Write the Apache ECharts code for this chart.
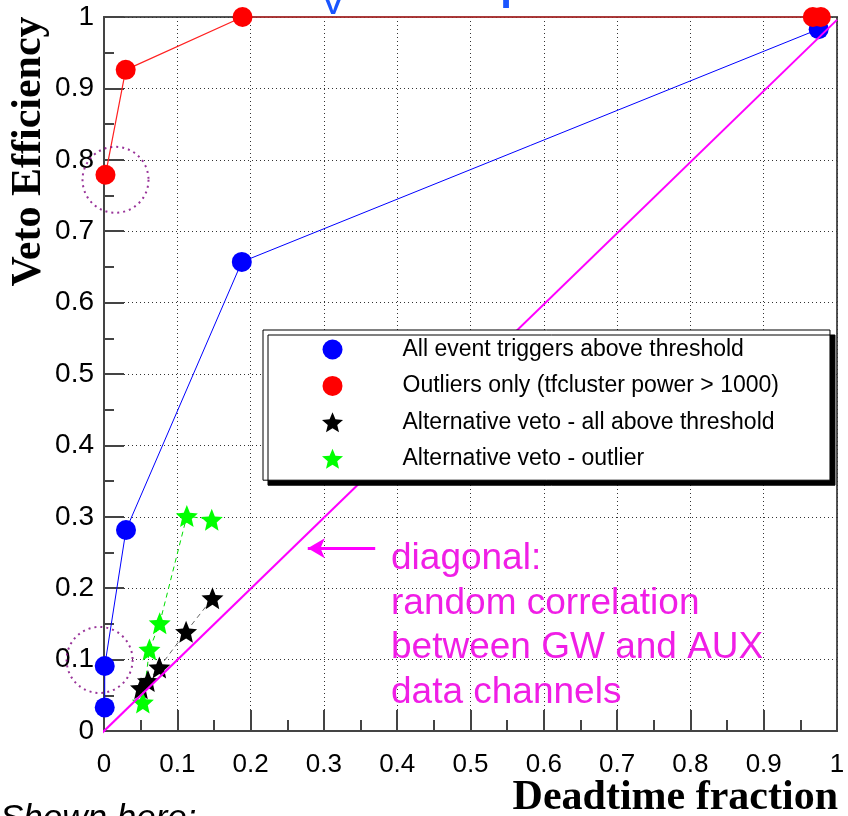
<!DOCTYPE html>
<html>
<head>
<meta charset="utf-8">
<script src="https://cdn.jsdelivr.net/npm/echarts@6/dist/echarts.min.js"></script>
<style>html,body{margin:0;padding:0;background:#fff}#c{width:848px;height:816px}</style>
</head>
<body>
<div id="c"></div>
<script>
// ---- data ----
const seriesNames = [
  'All event triggers above threshold',
  'Outliers only (tfcluster power > 1000)',
  'Alternative veto - all above threshold',
  'Alternative veto - outlier'
];
const allTrigX = [0.001, 0.001, 0.030, 0.188, 0.975];
const allTrigY = [0.033, 0.091, 0.2815, 0.657, 0.983];
const outlierX = [0.002, 0.0296, 0.189, 0.967, 0.978];
const outlierY = [0.779, 0.926, 1.0, 1.0, 1.0];
const altAllX = [0.0505, 0.060, 0.0755, 0.112, 0.148];
const altAllY = [0.060, 0.070, 0.089, 0.139, 0.186];
const altOutX = [0.053, 0.062, 0.076, 0.113, 0.147];
const altOutY = [0.040, 0.114, 0.151, 0.301, 0.296];
const diagonalX = [-0.012, 1.0];
const diagonalY = [-0.012, 0.996];
const circleX = [0.0157, -0.006];
const circleY = [0.772, 0.0995];
const arrowX = [0.370, 0.278];
const arrowY = [0.256, 0.256];
const xTickLabels = ['0','0.1','0.2','0.3','0.4','0.5','0.6','0.7','0.8','0.9','1'];
const yTickLabels = ['0','0.1','0.2','0.3','0.4','0.5','0.6','0.7','0.8','0.9','1'];
const annotationLines = ['diagonal:', 'random correlation', 'between GW and AUX', 'data channels'];
const xTitle = 'Deadtime fraction';
const yTitle = 'Veto Efficiency';
const footText = 'Shown here:';

const zip = (xs, ys) => xs.map((x, i) => [x, ys[i]]);
const star = 'path://M100,0 L126.5,63.6 L195.1,69.1 L142.8,113.9 L158.8,180.9 L100,145 L41.2,180.9 L57.2,113.9 L4.9,69.1 L73.5,63.6 Z';
const tickLab = (arr) => (v) => arr[Math.round(v * 10)] ?? '';

const chart = echarts.init(document.getElementById('c'), null, {renderer: 'canvas'});
const axisCol = '#444';
const sans = 'Liberation Sans';
const serif = 'Liberation Serif';
const magenta = '#ff00ff';

chart.setOption({
  animation: false,
  backgroundColor: '#fff',
  grid: {left: 104, right: 11, top: 17, bottom: 85, show: true, borderColor: '#555', borderWidth: 2},
  xAxis: {
    type: 'value', min: 0, max: 1, interval: 0.1,
    axisLine: {show: true, onZero: false, lineStyle: {color: axisCol, width: 2}},
    axisTick: {show: true, inside: true, length: 21, lineStyle: {color: axisCol, width: 2}},
    minorTick: {show: true, splitNumber: 2, length: 11, lineStyle: {color: axisCol, width: 2}},
    splitLine: {show: true, lineStyle: {color: '#333', type: [1, 3], width: 1}},
    axisLabel: {fontSize: 26, color: '#000', fontFamily: sans, margin: 21, formatter: tickLab(xTickLabels)}
  },
  yAxis: {
    type: 'value', min: 0, max: 1, interval: 0.1,
    axisLine: {show: true, onZero: false, lineStyle: {color: axisCol, width: 2}},
    axisTick: {show: true, inside: true, length: 20, lineStyle: {color: axisCol, width: 2}},
    minorTick: {show: true, splitNumber: 2, length: 10, lineStyle: {color: axisCol, width: 2}},
    splitLine: {show: true, lineStyle: {color: '#333', type: [1, 3], width: 1}},
    axisLabel: {fontSize: 28, color: '#000', fontFamily: sans, margin: 10, formatter: tickLab(yTickLabels)}
  },
  legend: {
    orient: 'vertical', left: 263, top: 330,
    padding: [8, 51, 10, 59],
    itemWidth: 130, itemHeight: 20, itemGap: 13.4,
    backgroundColor: '#fff', borderColor: '#000', borderWidth: 1,
    shadowColor: '#000', shadowBlur: 0, shadowOffsetX: 5, shadowOffsetY: 5,
    textStyle: {fontSize: 23, color: '#000', fontFamily: sans},
    selectedMode: false,
    data: [
      {name: seriesNames[0], icon: 'circle'},
      {name: seriesNames[1], icon: 'circle'},
      {name: seriesNames[2], icon: star},
      {name: seriesNames[3], icon: star}
    ],
    z: 10
  },
  series: [
    {
      name: 'diagonal', type: 'line', data: zip(diagonalX, diagonalY), symbol: 'none', clip: false,
      lineStyle: {color: magenta, width: 2}, z: 6, silent: true,
      markLine: {
        silent: true, symbol: ['none', 'arrow'], symbolSize: [15, 17],
        lineStyle: {color: magenta, width: 3, type: 'solid'}, label: {show: false},
        data: [[{coord: [arrowX[0], arrowY[0]]}, {coord: [arrowX[1], arrowY[1]]}]]
      }
    },
    {
      name: seriesNames[0], type: 'line', data: zip(allTrigX, allTrigY), symbol: 'circle', symbolSize: 20, clip: false,
      itemStyle: {color: '#0000ff'}, lineStyle: {color: '#0000ff', width: 1}, z: 3
    },
    {
      name: seriesNames[1], type: 'line', data: zip(outlierX, outlierY), symbol: 'circle', symbolSize: 20, clip: false,
      itemStyle: {color: '#ff0000'}, lineStyle: {color: '#ff2020', width: 1.2}, z: 4
    },
    {
      name: seriesNames[2], type: 'line', data: zip(altAllX, altAllY), symbol: star, symbolSize: 22, clip: false,
      itemStyle: {color: '#000'}, lineStyle: {color: '#666', width: 1, type: [5, 4]}, z: 5
    },
    {
      name: seriesNames[3], type: 'line', data: zip(altOutX, altOutY), symbol: star, symbolSize: 22, clip: false,
      itemStyle: {color: '#00ff00'}, lineStyle: {color: '#00dd00', width: 1, type: [5, 4]}, z: 5
    },
    {
      name: 'circles', type: 'scatter', data: zip(circleX, circleY), symbol: 'circle', symbolSize: 66, clip: false,
      itemStyle: {color: 'rgba(0,0,0,0)', borderColor: '#800080', borderWidth: 2, borderType: [2, 4]}, z: 6, silent: true
    }
  ],
  graphic: [
    {type: 'text', x: 333, y: 23, z: 20, style: {text: 'V', fontSize: 40, fontFamily: sans, fill: '#1a55ff', textAlign: 'center', textVerticalAlign: 'bottom'}},
    {type: 'text', x: 506, y: 17, z: 20, style: {text: 'I', fontSize: 40, fontWeight: 'bold', fontFamily: sans, fill: '#1a55ff', textAlign: 'center', textVerticalAlign: 'bottom'}},
    {type: 'text', x: 29, y: 151.5, rotation: Math.PI / 2, z: 20, style: {text: yTitle, fontSize: 42, fontWeight: 'bold', fontFamily: serif, fill: '#000', textAlign: 'center', textVerticalAlign: 'middle'}},
    {type: 'text', x: 838, y: 798, z: 20, style: {text: xTitle, fontSize: 42, fontWeight: 'bold', fontFamily: serif, fill: '#000', textAlign: 'right', textVerticalAlign: 'middle'}},
    {type: 'text', x: 0, y: 819, z: 20, style: {text: footText, fontSize: 35, fontStyle: 'italic', fontFamily: sans, fill: '#000', textAlign: 'left', textVerticalAlign: 'middle'}},
    {type: 'text', x: 391, y: 537, z: 20, style: {text: annotationLines.join('\n'), fontSize: 37, lineHeight: 44.4, fontFamily: sans, fill: '#f01ee6', textAlign: 'left', textVerticalAlign: 'top'}}
  ]
});
</script>
</body>
</html>
